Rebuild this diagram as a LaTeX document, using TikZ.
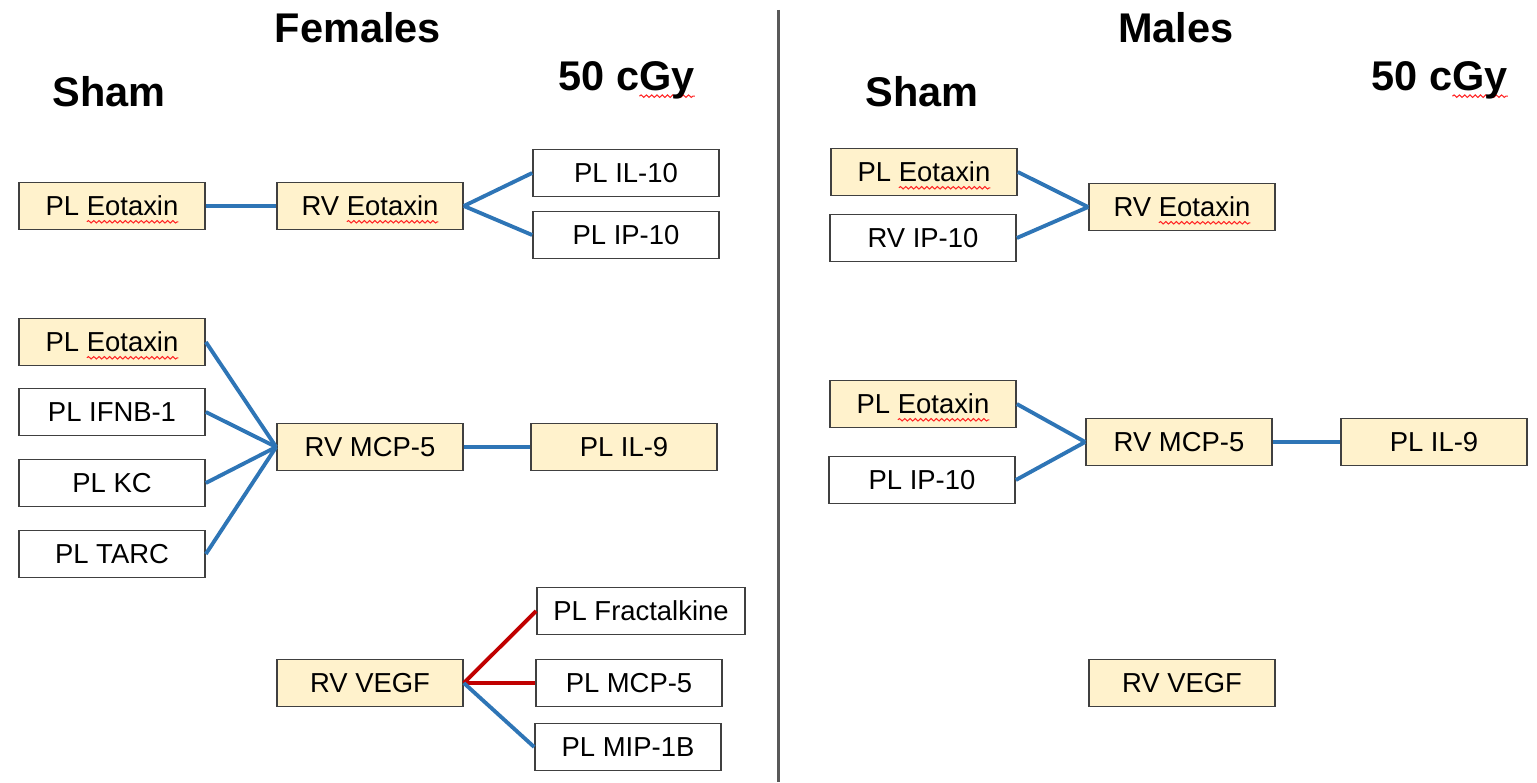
\documentclass[tikz,border=0pt]{standalone}
\usepackage{fontspec}
\setmainfont{Liberation Sans}
\usetikzlibrary{decorations.pathmorphing}
\definecolor{boxcream}{HTML}{FFF2CC}
\definecolor{linkblue}{HTML}{2E75B6}
\definecolor{linkred}{HTML}{C00000}
\definecolor{rimgray}{HTML}{404040}
\definecolor{splitgray}{HTML}{595959}
\newlength{\spellwd}
\newcommand{\spell}[1]{\settowidth{\spellwd}{#1}\tikz[overlay,baseline=0pt,x=1cm,y=1cm]\draw[red!85,line width=0.3pt,decorate,decoration={snake,amplitude=0.35pt,segment length=1.5pt}] (0pt,-1.7pt) -- (\spellwd,-1.7pt);#1}

\begin{document}
\begin{tikzpicture}[x=0.01cm, y=-0.01cm,
	cell/.style={draw=rimgray, line width=0.45pt, minimum width=1.86cm, minimum height=0.47cm, inner sep=0pt, font=\fontsize{7.8}{9}\selectfont},
	hit/.style={cell, fill=boxcream},
	miss/.style={cell, fill=white},
	head/.style={inner sep=0pt, font=\fontsize{11.8}{14}\selectfont\bfseries},
	up/.style={linkblue, line width=1.1pt},
	down/.style={linkred, line width=1.1pt}]
	\useasboundingbox (0,0) rectangle (1537,782);

	\coordinate (divtop) at (778,10);
	\coordinate (divbot) at (778,782);
	\draw[splitgray, line width=0.85pt] (divtop) -- (divbot);

	\node[head] (femtitle) at (358,28) {Females};
	\node[head, anchor=west] (femsham) at (52,92) {Sham};
	\node[head, anchor=west] (femdose) at (558,80) {50 c\spell{Gy}};
	\node[head] (maltitle) at (1176,28) {Males};
	\node[head, anchor=west] (malsham) at (865,92) {Sham};
	\node[head, anchor=west] (maldose) at (1371,80) {50 c\spell{Gy}};

	\node[hit] (fpleot) at (112,206) {PL \spell{Eotaxin}};
	\node[hit] (frveot) at (370,206) {RV \spell{Eotaxin}};
	\node[miss] (fil10) at (626,173) {PL IL-10};
	\node[miss] (fip10) at (626,235) {PL IP-10};
	\draw[up] (fpleot.east) -- (frveot.west);
	\draw[up] (frveot.east) -- (fil10.west);
	\draw[up] (frveot.east) -- (fip10.west);

	\node[hit] (fpleotb) at (112,342) {PL \spell{Eotaxin}};
	\node[miss] (fifnb) at (112,412) {PL IFNB-1};
	\node[miss] (fkc) at (112,483) {PL KC};
	\node[miss] (ftarc) at (112,554) {PL TARC};
	\node[hit] (frvmcp) at (370,447) {RV MCP-5};
	\node[hit] (fil9) at (624,447) {PL IL-9};
	\draw[up] (fpleotb.east) -- (frvmcp.west);
	\draw[up] (fifnb.east) -- (frvmcp.west);
	\draw[up] (fkc.east) -- (frvmcp.west);
	\draw[up] (ftarc.east) -- (frvmcp.west);
	\draw[up] (frvmcp.east) -- (fil9.west);

	\node[hit] (frvvegf) at (370,683) {RV VEGF};
	\node[miss, minimum width=2.08cm] (ffrac) at (641,611) {PL Fractalkine};
	\node[miss] (fplmcp) at (629,683) {PL MCP-5};
	\node[miss] (fmip) at (628,747) {PL MIP-1B};
	\draw[down] (frvvegf.east) -- (ffrac.west);
	\draw[down] (frvvegf.east) -- (fplmcp.west);
	\draw[up] (frvvegf.east) -- (fmip.west);

	\node[hit] (mpleot) at (924,172) {PL \spell{Eotaxin}};
	\node[miss] (mip10) at (923,238) {RV IP-10};
	\node[hit] (mrveot) at (1182,207) {RV \spell{Eotaxin}};
	\draw[up] (mpleot.east) -- (mrveot.west);
	\draw[up] (mip10.east) -- (mrveot.west);

	\node[hit] (mpleotb) at (923,404) {PL \spell{Eotaxin}};
	\node[miss] (mplip10) at (922,480) {PL IP-10};
	\node[hit] (mrvmcp) at (1179,442) {RV MCP-5};
	\node[hit] (mil9) at (1434,442) {PL IL-9};
	\draw[up] (mpleotb.east) -- (mrvmcp.west);
	\draw[up] (mplip10.east) -- (mrvmcp.west);
	\draw[up] (mrvmcp.east) -- (mil9.west);

	\node[hit] (mrvvegf) at (1182,683) {RV VEGF};
\end{tikzpicture}
\end{document}
